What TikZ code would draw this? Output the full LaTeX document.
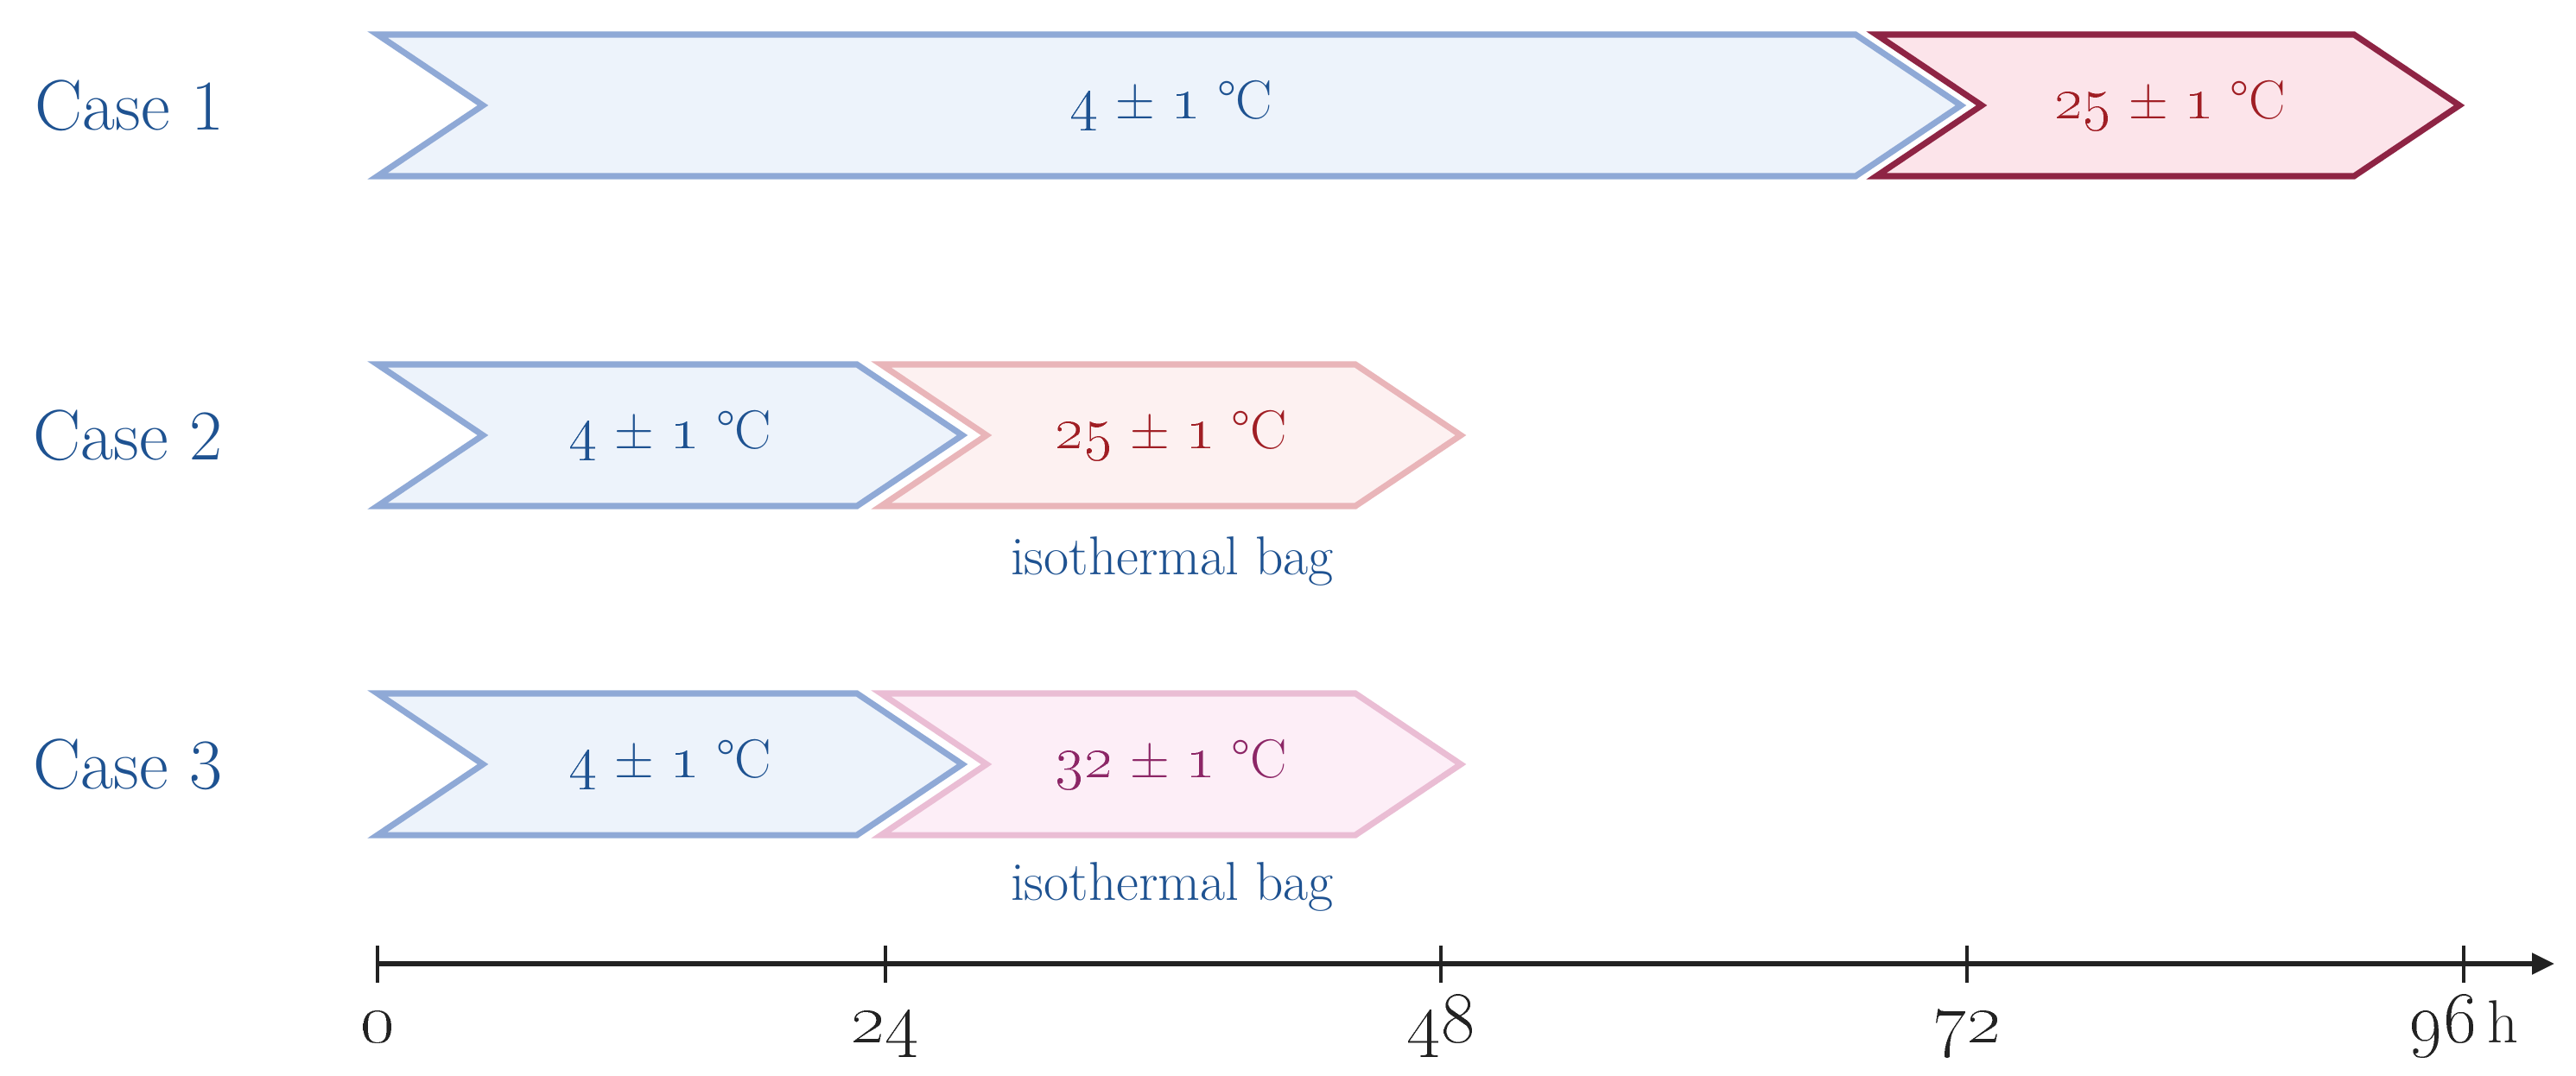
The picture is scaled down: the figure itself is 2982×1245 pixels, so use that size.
\documentclass[tikz,border=0pt]{standalone}
\usetikzlibrary{arrows.meta}
\definecolor{bstroke}{HTML}{8FA9D6}
\definecolor{bfill}{HTML}{EDF3FB}
\definecolor{rstroke}{HTML}{8E2444}
\definecolor{rfill}{HTML}{FCE4EA}
\definecolor{pstroke}{HTML}{E9B5B9}
\definecolor{pfill}{HTML}{FDF1F1}
\definecolor{mstroke}{HTML}{EABDD4}
\definecolor{mfill}{HTML}{FDEEF7}
\definecolor{btext}{HTML}{1E5291}
\definecolor{rtext}{HTML}{A01E24}
\definecolor{mtext}{HTML}{8C2666}
\definecolor{axcol}{HTML}{222222}
\newcommand\casefont{\fontsize{23.5}{28}\selectfont}
\newcommand\tmpfont{\fontsize{18}{22}\selectfont}
\newcommand\bagfont{\fontsize{18}{22}\selectfont}
\newcommand\axfont{\fontsize{20}{24}\selectfont}
\newcommand\osn[1]{\scalebox{1.18}{\oldstylenums{#1}}}
\newcommand\tval[1]{\osn{#1} ± \osn{1} °C}
% chevron: #1 style, #2 left x, #3 right x (tip), #4 centre y
\newcommand\chevron[4]{%
  \draw[#1] (#2,#4-82) -- (#3-122,#4-82) -- (#3,#4) -- (#3-122,#4+82)
    -- (#2,#4+82) -- (#2+122,#4) -- cycle;}
\begin{document}
\begin{tikzpicture}[x=0.01cm,y=-0.01cm,
  chev/.style={line width=2pt,line join=miter},
  bluechev/.style={chev,draw=bstroke,fill=bfill},
  redchev/.style={chev,draw=rstroke,fill=rfill},
  pinkchev/.style={chev,draw=pstroke,fill=pfill},
  magchev/.style={chev,draw=mstroke,fill=mfill},
  caselab/.style={text=btext,font=\casefont,inner sep=0pt},
  tlab/.style={font=\tmpfont,inner sep=0pt},
  baglab/.style={text=btext,font=\bagfont,inner sep=0pt},
  axlab/.style={text=axcol,font=\axfont,inner sep=0pt,anchor=base},
  tick/.style={draw=axcol,line width=0.9pt}]
\useasboundingbox (0,0) rectangle (2982,1245);
\fill[white] (0,0) rectangle (2982,1245);

% Case 1
\chevron{bluechev}{437}{2270}{122}
\chevron{redchev}{2172}{2847}{122}
\node[caselab] (case1) at (150,122) {Case 1};
\node[tlab,text=btext] (t1a) at (1356,122) {\tval{4}};
\node[tlab,text=rtext] (t1b) at (2512,122) {\tval{25}};

% Case 2
\chevron{bluechev}{437}{1114}{504}
\chevron{pinkchev}{1020}{1691}{504}
\node[caselab] (case2) at (148,504) {Case 2};
\node[tlab,text=btext] (t2a) at (776,504) {\tval{4}};
\node[tlab,text=rtext] (t2b) at (1356,504) {\tval{25}};
\node[baglab] (bag2) at (1357,650) {isothermal bag};

% Case 3
\chevron{bluechev}{437}{1114}{885}
\chevron{magchev}{1020}{1691}{885}
\node[caselab] (case3) at (148,885) {Case 3};
\node[tlab,text=btext] (t3a) at (776,885) {\tval{4}};
\node[tlab,text=mtext] (t3b) at (1356,885) {\tval{32}};
\node[baglab] (bag3) at (1357,1027) {isothermal bag};

% Time axis
\coordinate (ax0) at (437,1116);
\coordinate (axend) at (2957,1116);
\draw[axcol,line width=1.5pt,-{Triangle[length=0.26cm,width=0.24cm]}] (ax0) -- (axend);
\foreach \x in {437,1025,1668,2277,2852}{
  \draw[tick] (\x,1095) -- (\x,1138);
}
\node[axlab] (l0) at (437,1207) {\osn{0}};
\node[axlab] (l24) at (1025,1207) {\osn{24}};
\node[axlab] (l48) at (1668,1207) {\osn{48}};
\node[axlab] (l72) at (2277,1207) {\osn{72}};
\node[axlab] (l96) at (2852,1207) {\osn{96}\,h};
\end{tikzpicture}
\end{document}
